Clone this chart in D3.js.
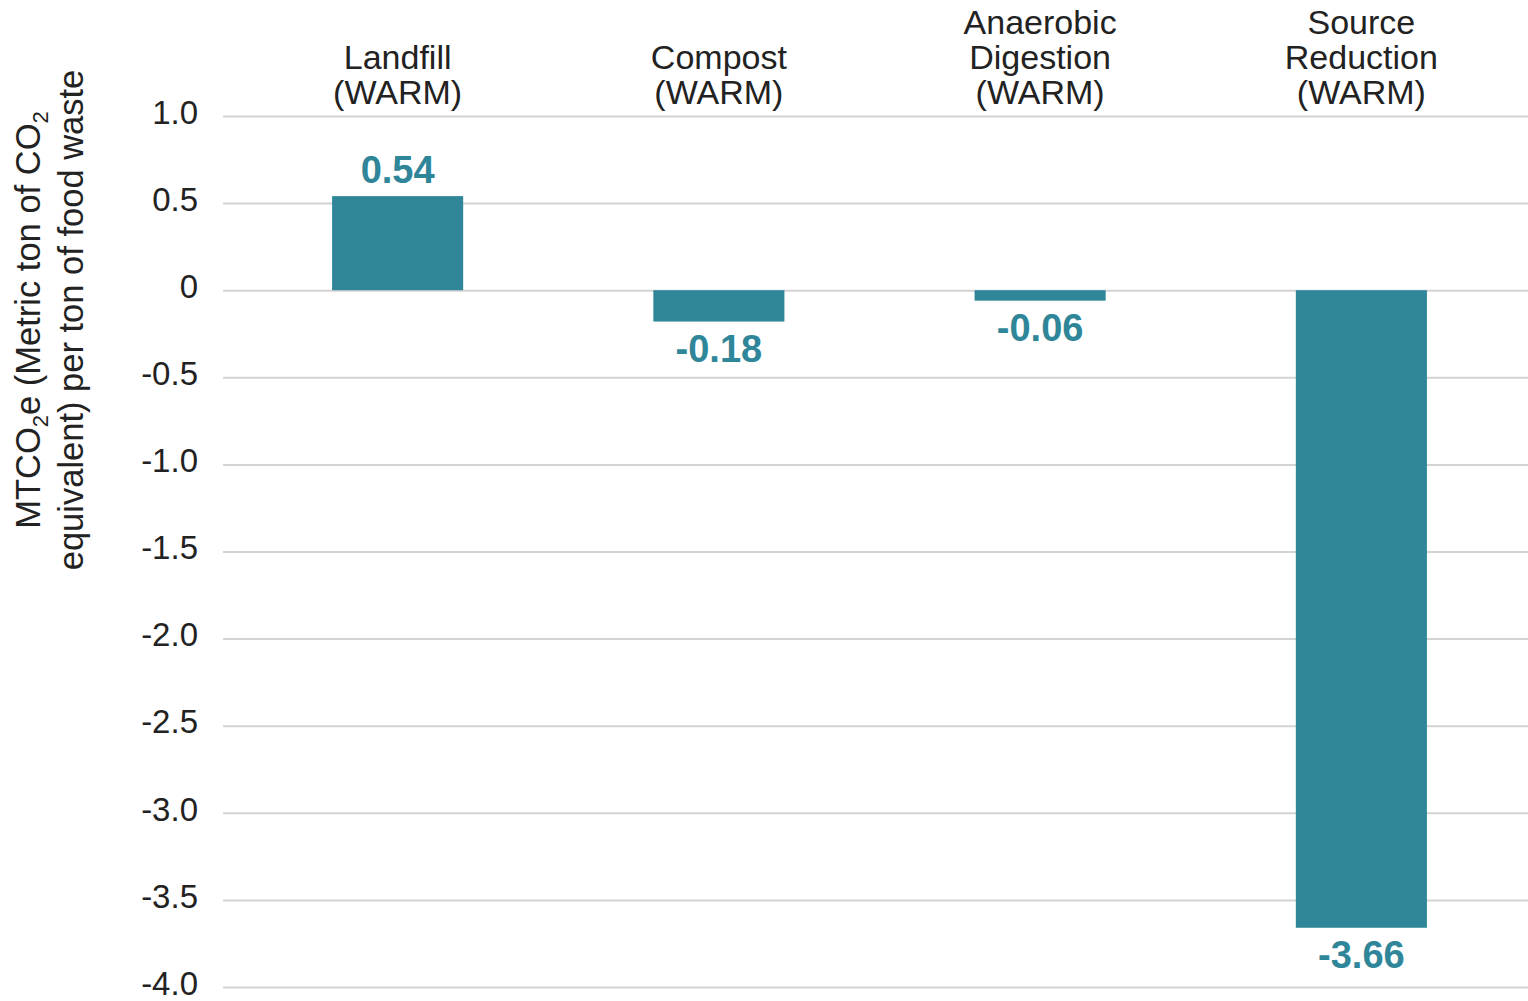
<!DOCTYPE html>
<html>
<head>
<meta charset="utf-8">
<script src="https://cdn.jsdelivr.net/npm/d3@7"></script>
<style>
  body { margin: 0; background: #fff; }
  svg { display: block; font-family: "Liberation Sans", Arial, sans-serif; }
</style>
</head>
<body>
<svg width="1528" height="1001"></svg>
<script>
const width = 1528;
const height = 1001;

// data
const categories = ['Landfill', 'Compost', 'Anaerobic Digestion', 'Source Reduction'];
const labelLines = [
    ['Landfill', '(WARM)'],
    ['Compost', '(WARM)'],
    ['Anaerobic', 'Digestion', '(WARM)'],
    ['Source', 'Reduction', '(WARM)']
];
const values = [0.54, -0.18, -0.06, -3.66];
const tickValues = [1.0, 0.5, 0, -0.5, -1.0, -1.5, -2.0, -2.5, -3.0, -3.5, -4.0];

const barColor = '#2f8699';
const labelColor = '#2f8699';

// plain hyphen for negatives, like the original
const fmt = p => d => d3.format(p)(d).replace('\u2212', '-');

const data = categories.map((c, i) => ({ cat: c, value: values[i], lines: labelLines[i] }));

const svg = d3.select('svg');

const xScale = d3.scaleBand()
    .domain(categories)
    .range([237, 1522])
    .paddingInner(0.592)
    .paddingOuter(0.296);

const yScale = d3.scaleLinear()
    .domain([-4, 1])
    .range([987, 116]);

// gridlines + tick labels
const yAxis = d3.axisLeft(yScale)
    .tickValues(tickValues)
    .tickSize(-(width - 223))
    .tickPadding(25)
    .tickFormat(d => d === 0 ? '0' : fmt('.1f')(d));

const gy = svg.append('g')
    .attr('transform', 'translate(223, 0)')
    .call(yAxis);

gy.select('.domain').remove();
gy.selectAll('.tick line')
    .attr('stroke', '#d3d3d3')
    .attr('stroke-width', 2);
gy.selectAll('.tick text')
    .attr('fill', '#222')
    .style('font-size', '33px')
    .attr('dy', '0.22em');

// bars
svg.selectAll('.bar')
    .data(data)
    .enter()
    .append('rect')
    .classed('bar', true)
    .attr('x', d => xScale(d.cat))
    .attr('width', xScale.bandwidth())
    .attr('y', d => yScale(Math.max(0, d.value)))
    .attr('height', d => Math.abs(yScale(d.value) - yScale(0)))
    .attr('fill', barColor);

// value labels
svg.selectAll('.value')
    .data(data)
    .enter()
    .append('text')
    .classed('value', true)
    .attr('x', d => xScale(d.cat) + xScale.bandwidth() / 2)
    .attr('y', d => d.value >= 0 ? yScale(d.value) - 13 : yScale(d.value) + 40)
    .attr('text-anchor', 'middle')
    .attr('fill', labelColor)
    .style('font-size', '38px')
    .style('font-weight', 'bold')
    .text(d => fmt('.2f')(d.value));

// category labels above the plot
const catLabels = svg.selectAll('.cat')
    .data(data)
    .enter()
    .append('text')
    .classed('cat', true)
    .attr('x', d => xScale(d.cat) + xScale.bandwidth() / 2)
    .attr('text-anchor', 'middle')
    .attr('fill', '#222')
    .style('font-size', '34px');

catLabels.selectAll('tspan')
    .data(d => d.lines.map((l, i) => ({ text: l, row: i, n: d.lines.length })))
    .enter()
    .append('tspan')
    .attr('x', function() { return d3.select(this.parentNode).attr('x'); })
    .attr('y', d => 104 - (d.n - 1 - d.row) * 35)
    .text(d => d.text);

// y axis title, two lines
const title = svg.append('text')
    .attr('transform', 'translate(50, 320) rotate(-90)')
    .attr('text-anchor', 'middle')
    .attr('fill', '#222')
    .style('font-size', '34.5px');

const line1 = title.append('tspan').attr('x', 0).attr('y', -10);
line1.append('tspan').text('MTCO');
line1.append('tspan').attr('dy', 8).style('font-size', '22px').text('2');
line1.append('tspan').attr('dy', -8).text('e (Metric ton of CO');
line1.append('tspan').attr('dy', 8).style('font-size', '22px').text('2');

title.append('tspan')
    .attr('x', 0)
    .attr('y', 33)
    .text('equivalent) per ton of food waste');
</script>
</body>
</html>
